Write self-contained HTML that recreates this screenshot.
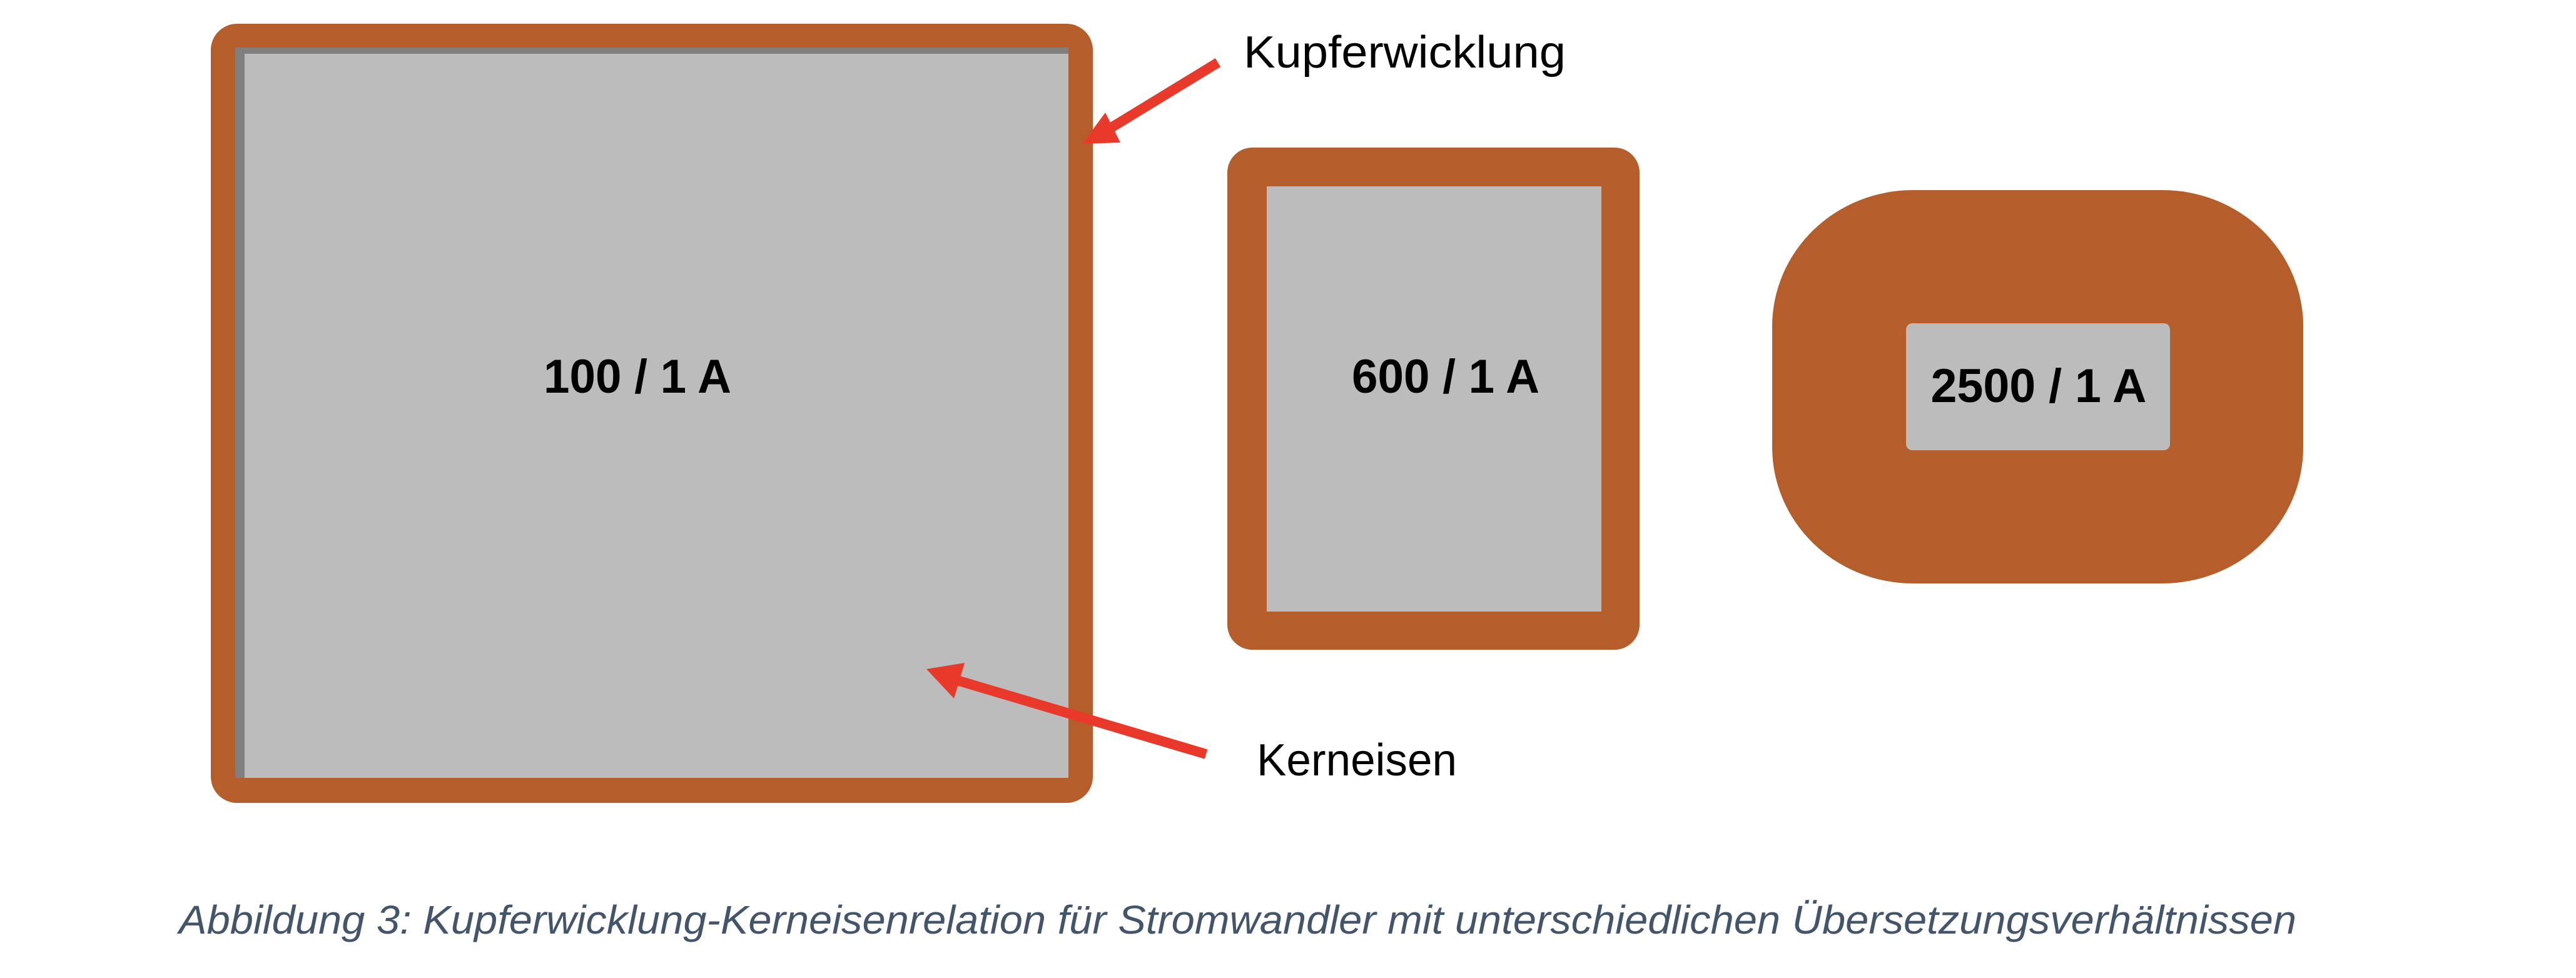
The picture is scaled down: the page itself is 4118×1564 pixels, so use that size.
<!DOCTYPE html>
<html><head><meta charset="utf-8"><style>html,body{margin:0;padding:0;background:#fff}svg{display:block}</style></head>
<body>
<svg width="4118" height="1564" viewBox="0 0 4118 1564" xmlns="http://www.w3.org/2000/svg">
<rect width="4118" height="1564" fill="#fff"/>
<!-- Box 1 -->
<rect x="337" y="38" width="1410" height="1246" rx="42" fill="#b55d2b"/>
<rect x="376" y="76" width="1332" height="1168" fill="#808080"/>
<rect x="391" y="86" width="1317" height="1158" fill="#bcbcbc"/>
<!-- Box 2 -->
<rect x="1962" y="236" width="659" height="803" rx="40" fill="#b55d2b"/>
<rect x="2025" y="298" width="535" height="680" fill="#bcbcbc"/>
<!-- Box 3 -->
<rect x="2833" y="304" width="849" height="629" rx="225" ry="218" fill="#b55d2b"/>
<rect x="3047" y="517" width="422" height="203" rx="10" fill="#bcbcbc"/>
<!-- labels -->
<g font-family="Liberation Sans, sans-serif" font-weight="bold" font-size="76" fill="#000" text-anchor="middle">
<text x="1019" y="628" textLength="300" lengthAdjust="spacingAndGlyphs">100 / 1 A</text>
<text x="2311" y="628" textLength="300" lengthAdjust="spacingAndGlyphs">600 / 1 A</text>
<text x="3259" y="643" textLength="345" lengthAdjust="spacingAndGlyphs">2500 / 1 A</text>
</g>
<g font-family="Liberation Sans, sans-serif" font-size="72" fill="#000">
<text x="1988" y="108" textLength="515" lengthAdjust="spacingAndGlyphs">Kupferwicklung</text>
<text x="2009" y="1240" textLength="320" lengthAdjust="spacingAndGlyphs">Kerneisen</text>
</g>
<!-- arrows -->
<g fill="#e8392a" stroke="#e8392a">
<line x1="1947" y1="100" x2="1770" y2="208" stroke-width="16"/>
<polygon points="1730,230 1767,180 1791,228" stroke="none"/>
<line x1="1928" y1="1206" x2="1520" y2="1085" stroke-width="16"/>
<polygon points="1481,1070 1542,1060 1525,1117" stroke="none"/>
</g>
<text x="286" y="1493" font-family="Liberation Sans, sans-serif" font-style="italic" font-size="64" fill="#44546a" textLength="3385" lengthAdjust="spacingAndGlyphs">Abbildung 3: Kupferwicklung-Kerneisenrelation für Stromwandler mit unterschiedlichen Übersetzungsverhältnissen</text>
</svg>
</body></html>
